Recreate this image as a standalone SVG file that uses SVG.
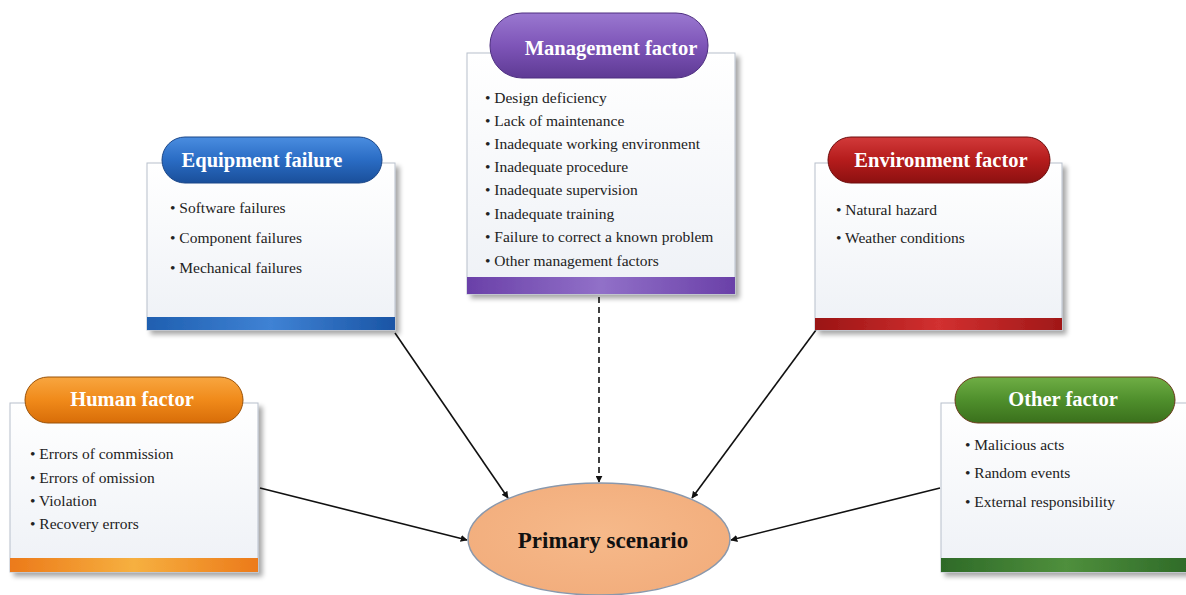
<svg xmlns="http://www.w3.org/2000/svg" width="1186" height="595" viewBox="0 0 1186 595">
<style>
.box{fill:url(#boxg);stroke:#b8c0cc;stroke-width:1}
.title{font-family:"Liberation Serif",serif;font-weight:bold;font-size:20.5px;fill:#ffffff;text-anchor:middle}
.item{font-family:"Liberation Serif",serif;font-size:15.5px;fill:#222222}
.conn{stroke:#111111;stroke-width:1.6;fill:none;marker-end:url(#arr)}
</style>
<defs>
<filter id="sh" x="-10%" y="-10%" width="130%" height="130%">
<feGaussianBlur in="SourceAlpha" stdDeviation="2.5"/>
<feOffset dx="4" dy="4" result="b"/>
<feComponentTransfer><feFuncA type="linear" slope="0.35"/></feComponentTransfer>
<feMerge><feMergeNode/><feMergeNode in="SourceGraphic"/></feMerge>
</filter>
<linearGradient id="boxg" x1="0" y1="0" x2="0" y2="1"><stop offset="0" stop-color="#ffffff"/><stop offset="1" stop-color="#eef1f6"/></linearGradient>
<linearGradient id="pBlue" x1="0" y1="0" x2="0" y2="1"><stop offset="0" stop-color="#4a8de0"/><stop offset="0.5" stop-color="#2a6cc4"/><stop offset="1" stop-color="#1a4f9a"/></linearGradient>
<linearGradient id="pPurple" x1="0" y1="0" x2="0" y2="1"><stop offset="0" stop-color="#9a78d0"/><stop offset="0.5" stop-color="#7e55b8"/><stop offset="1" stop-color="#5e3a94"/></linearGradient>
<linearGradient id="pOrange" x1="0" y1="0" x2="0" y2="1"><stop offset="0" stop-color="#f8a640"/><stop offset="0.5" stop-color="#f08a1a"/><stop offset="1" stop-color="#d86d08"/></linearGradient>
<linearGradient id="pRed" x1="0" y1="0" x2="0" y2="1"><stop offset="0" stop-color="#d23a3a"/><stop offset="0.5" stop-color="#b51c1c"/><stop offset="1" stop-color="#8c1010"/></linearGradient>
<linearGradient id="pGreen" x1="0" y1="0" x2="0" y2="1"><stop offset="0" stop-color="#6fae45"/><stop offset="0.5" stop-color="#4f8f2c"/><stop offset="1" stop-color="#3a701c"/></linearGradient>
<linearGradient id="bBlue" x1="0" y1="0" x2="1" y2="0"><stop offset="0" stop-color="#1f5fb0"/><stop offset="0.5" stop-color="#3f82d4"/><stop offset="1" stop-color="#1a55a5"/></linearGradient>
<linearGradient id="bPurple" x1="0" y1="0" x2="1" y2="0"><stop offset="0" stop-color="#6a40a8"/><stop offset="0.5" stop-color="#9170c8"/><stop offset="1" stop-color="#6a40a8"/></linearGradient>
<linearGradient id="bOrange" x1="0" y1="0" x2="1" y2="0"><stop offset="0" stop-color="#ec7a1a"/><stop offset="0.5" stop-color="#f6b040"/><stop offset="1" stop-color="#ec7a1a"/></linearGradient>
<linearGradient id="bRed" x1="0" y1="0" x2="1" y2="0"><stop offset="0" stop-color="#9a1414"/><stop offset="0.5" stop-color="#d23030"/><stop offset="1" stop-color="#a01818"/></linearGradient>
<linearGradient id="bGreen" x1="0" y1="0" x2="1" y2="0"><stop offset="0" stop-color="#2e6a28"/><stop offset="0.5" stop-color="#4f8f3c"/><stop offset="1" stop-color="#2e6a28"/></linearGradient>
<radialGradient id="ellg" cx="0.5" cy="0.45" r="0.6"><stop offset="0" stop-color="#f6b98a"/><stop offset="1" stop-color="#f2ad7c"/></radialGradient>
<marker id="arr" viewBox="0 0 10 10" refX="9" refY="5" markerWidth="7" markerHeight="7" orient="auto" markerUnits="userSpaceOnUse"><path d="M0,0 L10,5 L0,10 z" fill="#111111"/></marker>
</defs>

<g id="connectors">
<line class="conn" x1="395" y1="333" x2="508" y2="498"/>
<line class="conn" x1="599" y1="297" x2="599" y2="482" stroke-dasharray="6,4"/>
<line class="conn" x1="816" y1="330" x2="692" y2="498"/>
<line class="conn" x1="260" y1="488" x2="467" y2="540"/>
<line class="conn" x1="940" y1="488" x2="731" y2="540"/>
</g>

<g id="primary-scenario">
<ellipse cx="599" cy="539" rx="131" ry="56" fill="url(#ellg)" stroke="#8a98ac" stroke-width="1.5"/>
<text x="603" y="548" font-family="Liberation Serif, serif" font-weight="bold" font-size="23" fill="#111111" text-anchor="middle">Primary scenario</text>
</g>

<g id="management-factor">
<g filter="url(#sh)">
<rect class="box" x="467" y="53" width="268" height="241"/>
<rect x="467" y="277" width="268" height="17" fill="url(#bPurple)"/>
</g>
<rect x="490" y="13" width="218" height="65" rx="32" fill="url(#pPurple)" stroke="#4e2f80" stroke-width="1"/>
<text class="title" x="611" y="55">Management factor</text>
<text class="item" x="485" y="103">• Design deficiency</text>
<text class="item" x="485" y="126">• Lack of maintenance</text>
<text class="item" x="485" y="149">• Inadequate working environment</text>
<text class="item" x="485" y="172">• Inadequate procedure</text>
<text class="item" x="485" y="195">• Inadequate supervision</text>
<text class="item" x="485" y="219">• Inadequate training</text>
<text class="item" x="485" y="242">• Failure to correct a known problem</text>
<text class="item" x="485" y="266">• Other management factors</text>
</g>

<g id="equipment-failure">
<g filter="url(#sh)">
<rect class="box" x="147" y="163" width="248" height="167"/>
<rect x="147" y="317" width="248" height="13" fill="url(#bBlue)"/>
</g>
<rect x="162" y="137" width="220" height="46" rx="23" fill="url(#pBlue)" stroke="#1a4688" stroke-width="1"/>
<text class="title" x="262" y="167">Equipment failure</text>
<text class="item" x="170" y="213">• Software failures</text>
<text class="item" x="170" y="243">• Component failures</text>
<text class="item" x="170" y="273">• Mechanical failures</text>
</g>

<g id="environment-factor">
<g filter="url(#sh)">
<rect class="box" x="815" y="163" width="247" height="167"/>
<rect x="815" y="318" width="247" height="12" fill="url(#bRed)"/>
</g>
<rect x="828" y="137" width="222" height="46" rx="23" fill="url(#pRed)" stroke="#6e0c0c" stroke-width="1"/>
<text class="title" x="941" y="167">Environment factor</text>
<text class="item" x="836" y="215">• Natural hazard</text>
<text class="item" x="836" y="243">• Weather conditions</text>
</g>

<g id="human-factor">
<g filter="url(#sh)">
<rect class="box" x="10" y="403" width="248" height="169"/>
<rect x="10" y="558" width="248" height="14" fill="url(#bOrange)"/>
</g>
<rect x="25" y="377" width="218" height="46" rx="23" fill="url(#pOrange)" stroke="#9a5208" stroke-width="1"/>
<text class="title" x="132" y="406">Human factor</text>
<text class="item" x="30" y="459">• Errors of commission</text>
<text class="item" x="30" y="483">• Errors of omission</text>
<text class="item" x="30" y="506">• Violation</text>
<text class="item" x="30" y="529">• Recovery errors</text>
</g>

<g id="other-factor">
<g filter="url(#sh)">
<rect class="box" x="941" y="403" width="250" height="169"/>
<rect x="941" y="558" width="250" height="14" fill="url(#bGreen)"/>
</g>
<rect x="955" y="377" width="220" height="46" rx="23" fill="url(#pGreen)" stroke="#6a3a1a" stroke-width="1"/>
<text class="title" x="1063" y="406">Other factor</text>
<text class="item" x="965" y="450">• Malicious acts</text>
<text class="item" x="965" y="478">• Random events</text>
<text class="item" x="965" y="507">• External responsibility</text>
</g>
</svg>
